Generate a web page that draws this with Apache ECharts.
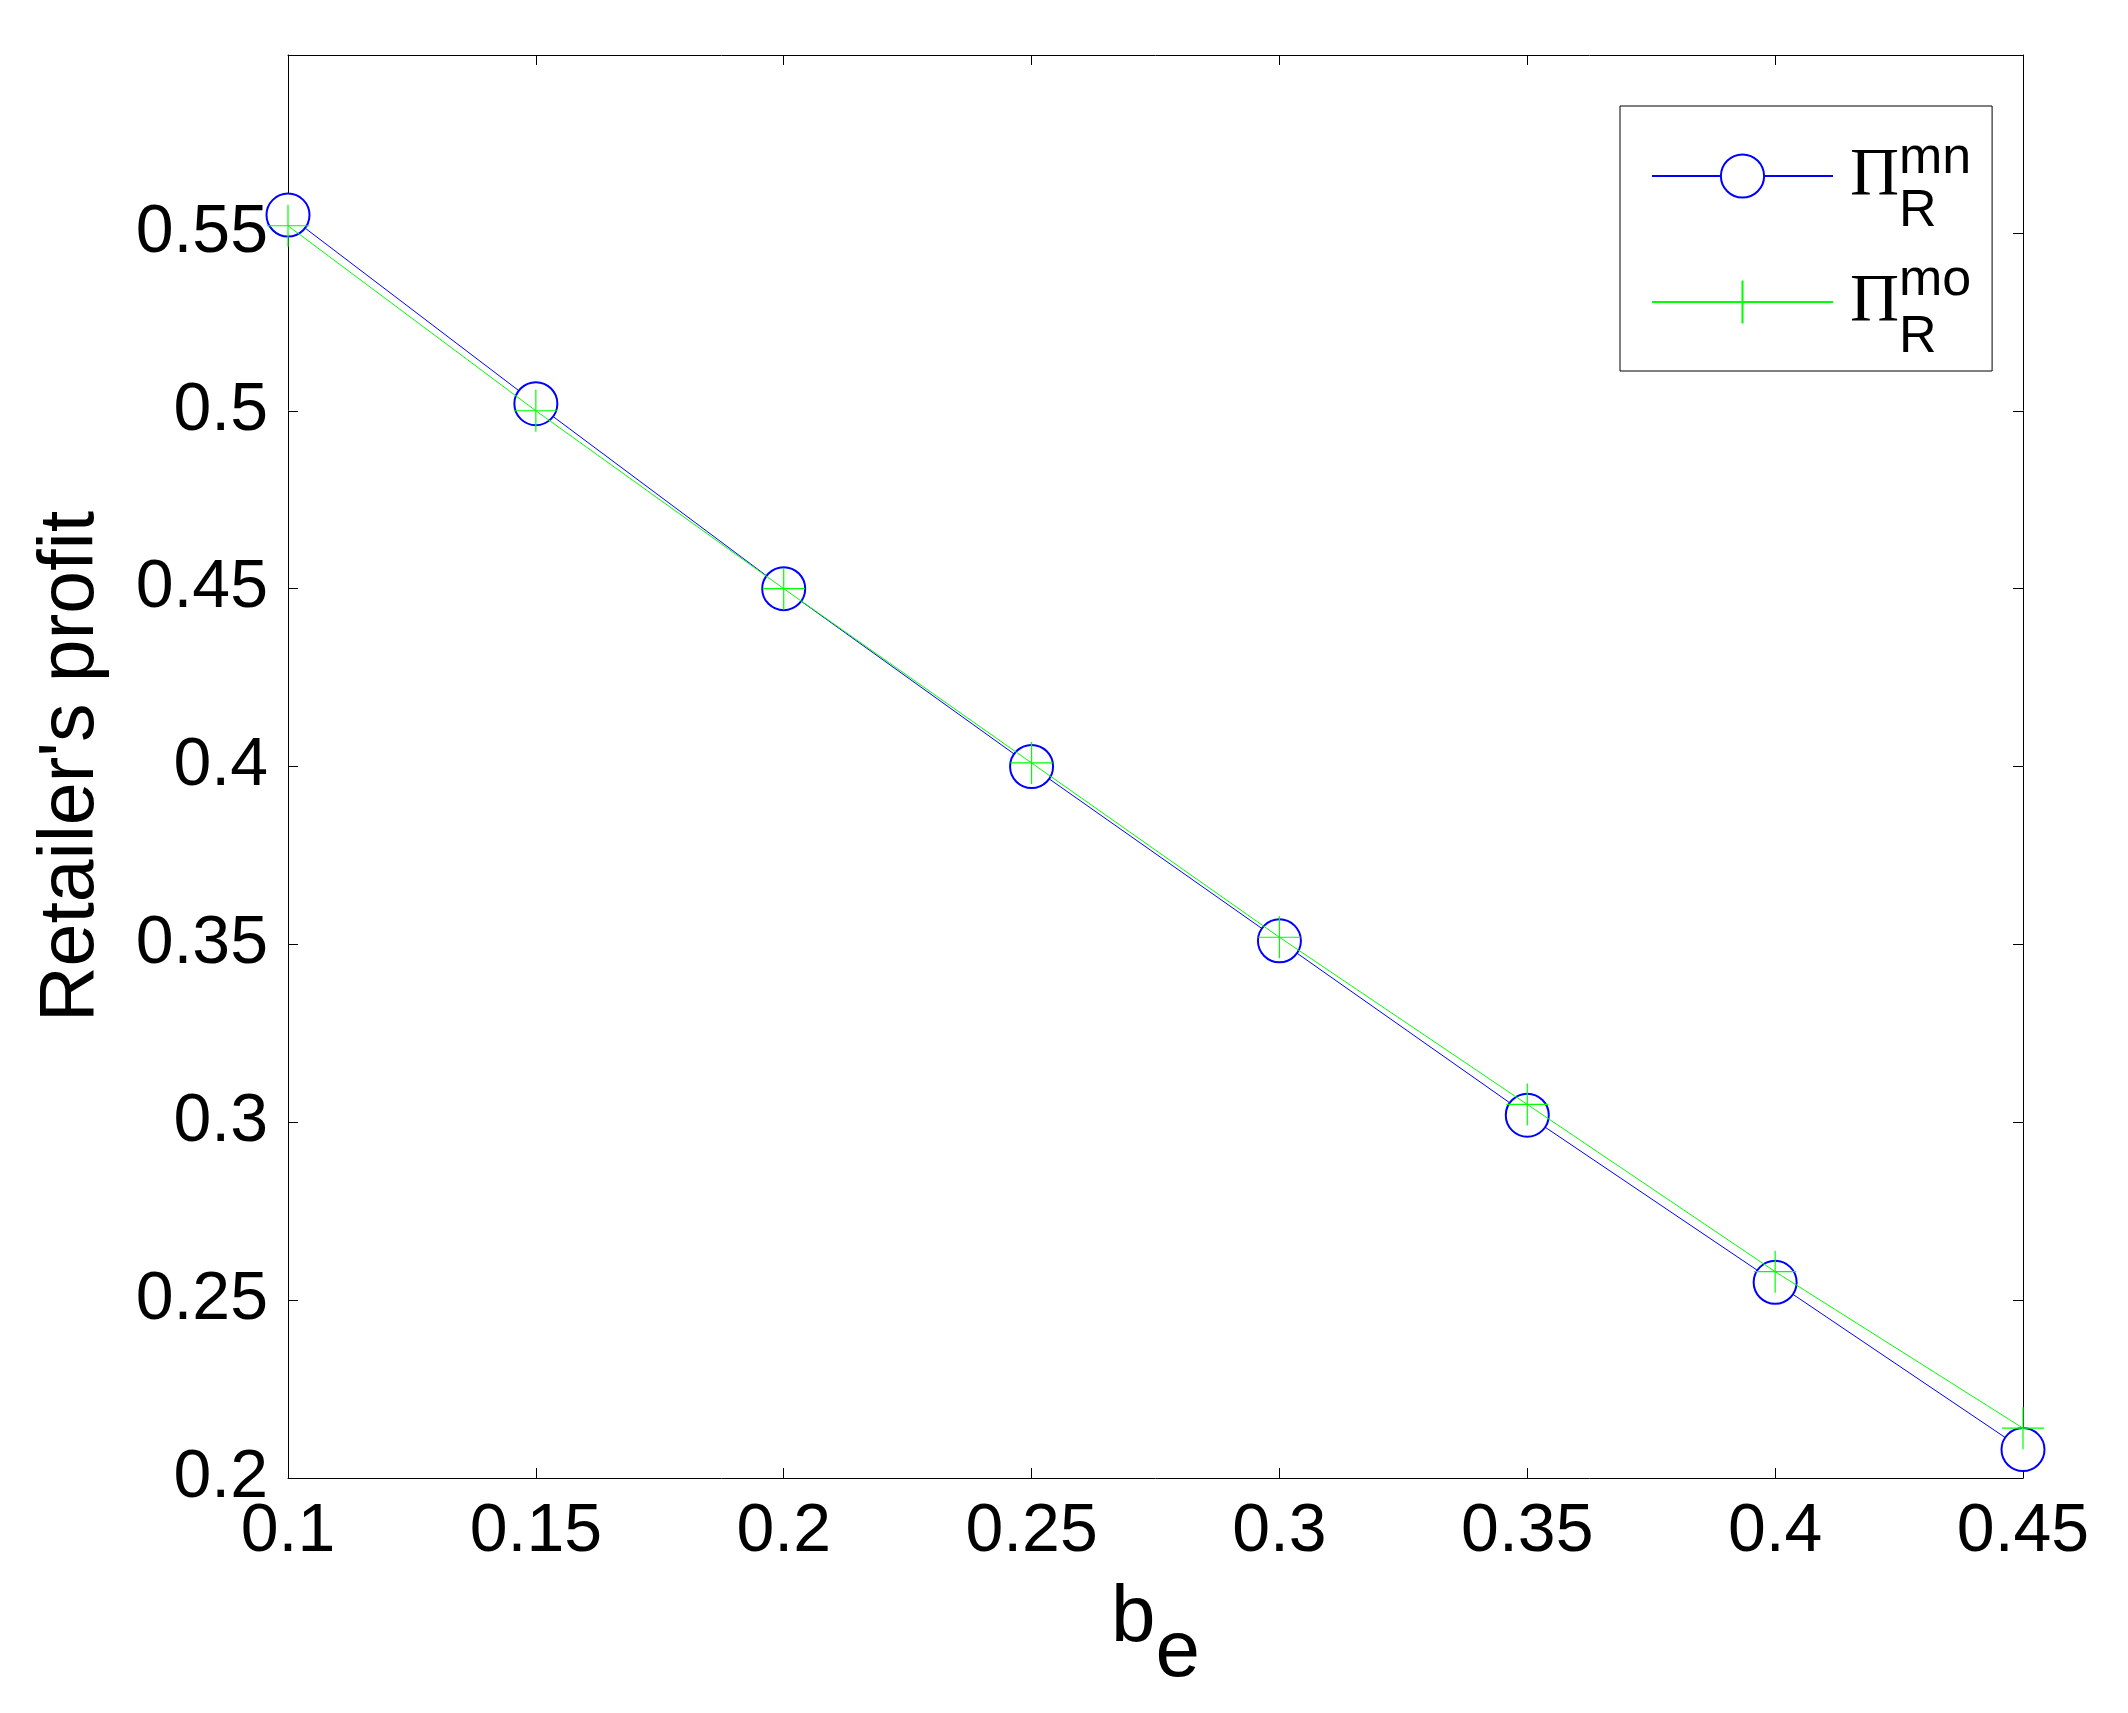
<!DOCTYPE html>
<html>
<head>
<meta charset="utf-8">
<title>Retailer's profit</title>
<script src="https://cdn.jsdelivr.net/npm/echarts@6/dist/echarts.min.js"></script>
<style>
  html, body { margin: 0; padding: 0; background: #ffffff; }
  #chart { width: 2128px; height: 1713px; }
</style>
</head>
<body>
<div id="chart"></div>
<script>
  // b_e values on the x axis
  const beValues = [0.1, 0.15, 0.2, 0.25, 0.3, 0.35, 0.4, 0.45]
  // retailer's profit
  const profitMN = [0.555, 0.502, 0.450, 0.400, 0.351, 0.302, 0.255, 0.208]
  const profitMO = [0.552, 0.500, 0.450, 0.401, 0.352, 0.305, 0.258, 0.214]
  const seriesNames = ['mn', 'mo']

  const toPairs = (xs, ys) => xs.map((x, i) => [x, ys[i]])

  const chart = echarts.init(document.getElementById('chart'))

  const sansFont = 'Liberation Sans, Arial, sans-serif'
  const plusPath = 'path://M0,-20L0,20M-21,0L21,0'

  // the x axes: bottom with labels, top only for the box
  const xBase = {
    type: 'value',
    min: 0.1,
    max: 0.45,
    interval: 0.05,
    splitLine: { show: false },
    axisLine: { onZero: false, lineStyle: { color: '#000', width: 1 } },
    axisTick: { inside: true, length: 10, lineStyle: { color: '#000' } }
  }
  const yBase = {
    type: 'value',
    min: 0.2,
    max: 0.6,
    interval: 0.05,
    splitLine: { show: false },
    axisLine: { onZero: false, lineStyle: { color: '#000', width: 1 } },
    axisTick: { inside: true, length: 10, lineStyle: { color: '#000' } }
  }

  const option = {
    backgroundColor: '#ffffff',
    animation: false,
    grid: { left: 288, right: 105, top: 55, bottom: 235 },
    xAxis: [
      Object.assign({}, xBase, {
        position: 'bottom',
        name: '{b|b}{e|e}',
        nameLocation: 'middle',
        nameGap: 66,
        nameMoveOverlap: false,
        nameTextStyle: {
          rich: {
            b: { fontFamily: sansFont, fontSize: 80, color: '#000' },
            e: { fontFamily: sansFont, fontSize: 80, color: '#000', padding: [70, 0, 0, 0] }
          }
        },
        axisLabel: { margin: 20, fontFamily: sansFont, fontSize: 68, color: '#000' }
      }),
      Object.assign({}, xBase, { position: 'top', axisLabel: { show: false } })
    ],
    yAxis: [
      Object.assign({}, yBase, {
        position: 'left',
        name: "Retailer's profit",
        nameLocation: 'middle',
        nameGap: 178,
        nameMoveOverlap: false,
        nameTextStyle: { fontFamily: sansFont, fontSize: 77, color: '#000' },
        axisLabel: { margin: 20, fontFamily: sansFont, fontSize: 68, color: '#000', showMaxLabel: false }
      }),
      Object.assign({}, yBase, { position: 'right', axisLabel: { show: false } })
    ],
    legend: {
      orient: 'vertical',
      left: 1620,
      top: 106,
      padding: [36, 93, 35, 31],
      itemWidth: 181,
      itemHeight: 54,
      itemGap: 58,
      backgroundColor: '#ffffff',
      borderColor: '#000',
      borderWidth: 1,
      borderRadius: 0,
      data: seriesNames,
      formatter: () => '{gap|}{pi|Π}',
      textStyle: {
        rich: {
          gap: { width: 12 },
          pi: { fontFamily: 'Liberation Serif, Times New Roman, serif', fontSize: 68, color: '#000', lineHeight: 54 }
        }
      }
    },
    // super/subscripts of the legend labels
    graphic: [
      { type: 'text', left: 1899, top: 133, z: 100, style: { text: 'mn', font: '52px ' + sansFont, fill: '#000' } },
      { type: 'text', left: 1899, top: 186, z: 100, style: { text: 'R', font: '52px ' + sansFont, fill: '#000' } },
      { type: 'text', left: 1899, top: 255, z: 100, style: { text: 'mo', font: '52px ' + sansFont, fill: '#000' } },
      { type: 'text', left: 1899, top: 312, z: 100, style: { text: 'R', font: '52px ' + sansFont, fill: '#000' } }
    ],
    series: [
      {
        name: 'mn',
        type: 'line',
        data: toPairs(beValues, profitMN),
        symbol: 'emptyCircle',
        symbolSize: 43,
        showAllSymbol: true,
        lineStyle: { color: '#0000ff', width: 1 },
        itemStyle: { color: '#0000ff', borderColor: '#0000ff', borderWidth: 1.2 },
        z: 2
      },
      {
        name: 'mo',
        type: 'line',
        data: toPairs(beValues, profitMO),
        symbol: plusPath,
        symbolSize: 42,
        showAllSymbol: true,
        lineStyle: { color: '#00ff00', width: 1 },
        itemStyle: { color: 'transparent', borderColor: '#00ff00', borderWidth: 1.2 },
        z: 3
      }
    ]
  }

  chart.setOption(option)
</script>
</body>
</html>
